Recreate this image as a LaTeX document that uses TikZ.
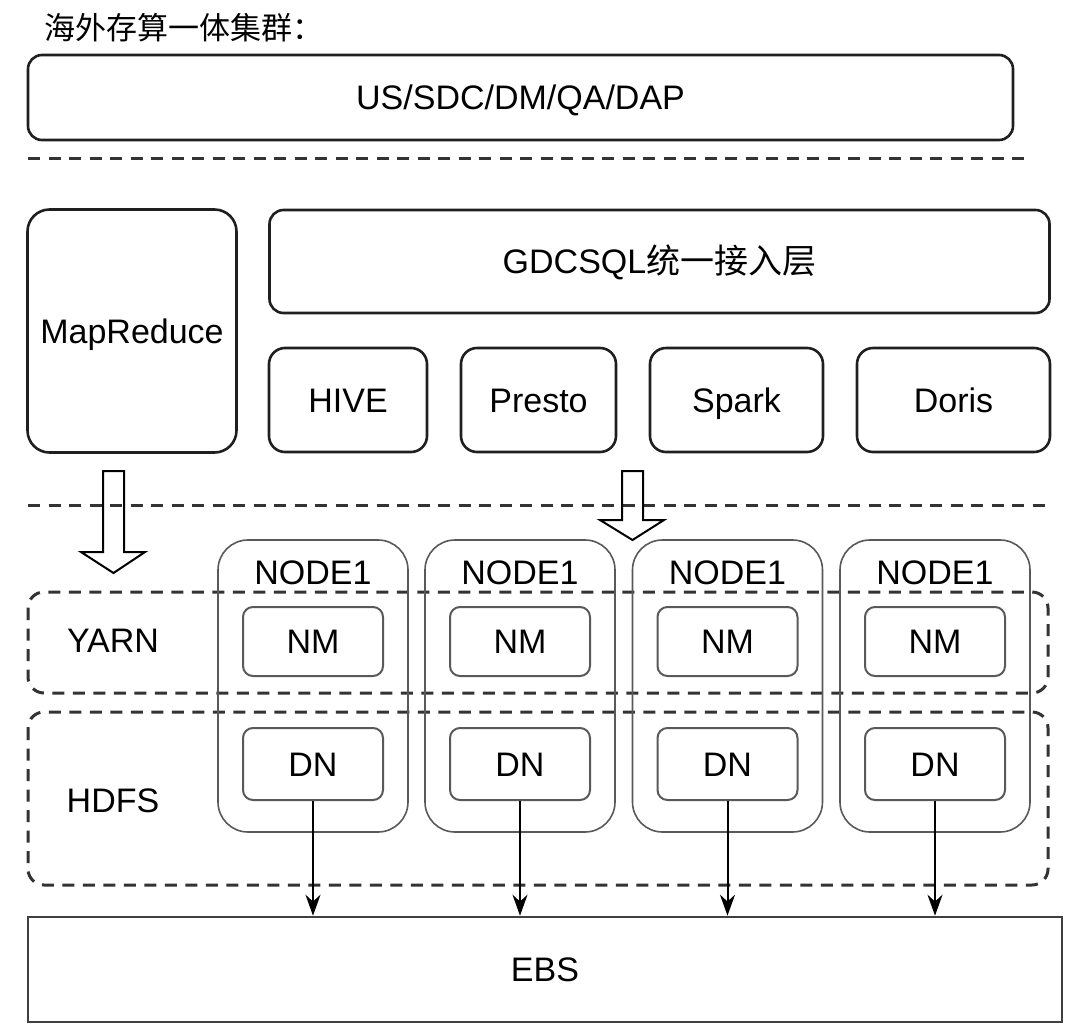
\documentclass[tikz,border=0pt]{standalone}
\usepackage{fontspec}
\setmainfont{Liberation Sans}
\newfontfamily\cjk{Noto Sans CJK SC}
\usetikzlibrary{arrows.meta}
\begin{document}
\begin{tikzpicture}[x=1pt,y=-1pt,
  lbl/.style={font=\fontsize{34}{40}\selectfont, text=black, text height=24.4pt, text depth=0pt},
  topbox/.style={draw=black!88, line width=2.6pt, rounded corners=#1, inner sep=0pt, lbl},
  topbox/.default=14pt,
  nodebox/.style={draw=black!65, line width=1.6pt, rounded corners=30pt, inner sep=0pt},
  innerbox/.style={draw=black!65, line width=2pt, rounded corners=10pt, inner sep=0pt, minimum width=140pt, lbl},
  sep/.style={draw=black!80, line width=3pt, dash pattern=on 12pt off 8.5pt},
  zone/.style={draw=black!80, line width=3pt, dash pattern=on 12pt off 8.5pt, rounded corners=16pt},
  hollow/.style={draw=black, line width=2pt, line join=miter},
  down/.style={-{Stealth[length=21pt,width=15pt]}, line width=2pt, black}
]
\useasboundingbox (0,0) rectangle (1080,1026);

% title
\node[anchor=west, inner sep=0pt, font=\cjk\fontsize{31}{36}\selectfont] (title) at (44,28) {海外存算一体集群：};

% top app box
\node[topbox, minimum width=985pt, minimum height=85pt] (apps) at (520.5,97.5) {US/SDC/DM/QA/DAP};
\draw[sep] (28,158) coordinate (s1a) -- (1030,158) coordinate (s1b);

% compute layer
\node[topbox=22pt, minimum width=209pt, minimum height=243pt] (mr) at (132,331) {MapReduce};
\node[topbox, minimum width=780pt, minimum height=103pt] (gdc) at (659.5,261.5) {GDCSQL{\cjk 统一接入层}};
\node[topbox=16pt, minimum width=158pt, minimum height=104pt] (hive) at (348,400) {HIVE};
\node[topbox=16pt, minimum width=155pt, minimum height=104pt] (presto) at (538.5,400) {Presto};
\node[topbox=16pt, minimum width=173pt, minimum height=104pt] (spark) at (736.5,400) {Spark};
\node[topbox=16pt, minimum width=193pt, minimum height=104pt] (doris) at (953.5,400) {Doris};
\draw[sep] (28,505) coordinate (s2a) -- (1048,505) coordinate (s2b);

% zones
\draw[zone] (28,592) rectangle (1048,693);
\draw[zone] (28,712) rectangle (1048,885);
\node[lbl] (yarn) at (113,640) {YARN};
\node[lbl] (hdfs) at (113,800) {HDFS};

% worker nodes
\foreach \i/\cx in {1/313,2/520,3/727.5,4/935}{
  \node[nodebox, minimum width=190pt, minimum height=292pt] (n\i) at (\cx,686) {};
  \node[lbl] (t\i) at (\cx,572) {NODE1};
  \node[innerbox, minimum height=69pt] (nm\i) at (\cx,641.5) {NM};
  \node[innerbox, minimum height=72pt] (dn\i) at (\cx,764) {DN};
}

% hollow arrows
\draw[hollow] (103,471) -- (124,471) -- (124,552) -- (145,552) -- (113.5,573) -- (81,552) -- (103,552) -- cycle;
\draw[hollow] (622,471) -- (643,471) -- (643,520) -- (664,520) -- (632.5,540) -- (600,520) -- (622,520) -- cycle;

% EBS
\node[draw=black!75, line width=2.6pt, inner sep=0pt, minimum width=1034pt, minimum height=105pt, lbl] (ebs) at (545,969.5) {EBS};

\foreach \i in {1,2,3,4}{
  \draw[down] (dn\i.south) -- (dn\i.south |- ebs.north);
}
\end{tikzpicture}
\end{document}
